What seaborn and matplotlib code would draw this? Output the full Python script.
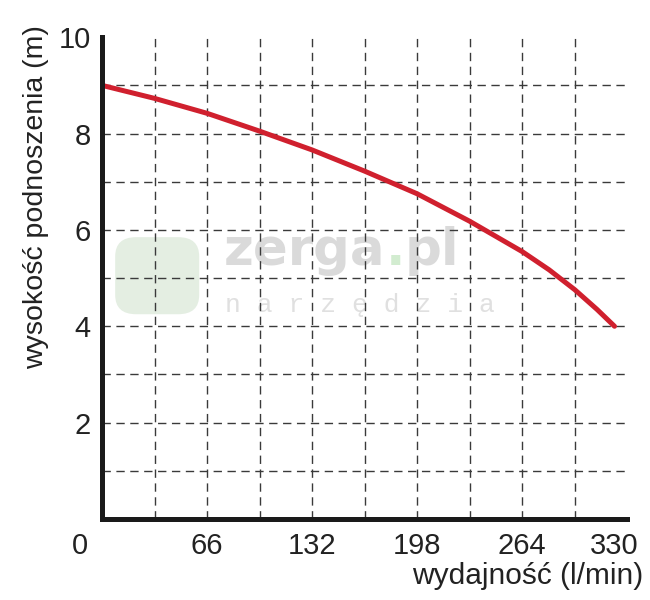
import numpy as np
import pandas as pd
import matplotlib
matplotlib.use("Agg")
import matplotlib.pyplot as plt
import matplotlib.transforms as mtransforms
from matplotlib.patches import FancyBboxPatch
import seaborn as sns

# pump curve
flow = [0, 33, 66, 99, 132, 165, 198, 231, 264, 281, 297, 311, 322]
head = [9.0, 8.73, 8.42, 8.05, 7.66, 7.22, 6.75, 6.18, 5.55, 5.17, 4.76, 4.35, 4.0]

x_ticks = [0, 66, 132, 198, 264, 330]
y_ticks = [2, 4, 6, 8, 10]
grid_x = [33, 66, 99, 132, 165, 198, 231, 264, 297]
grid_y = [1, 2, 3, 4, 5, 6, 7, 8, 9]

x_title = "wydajność (l/min)"
y_title = "wysokość podnoszenia (m)"

sns.set_theme(style="white")
plt.rcParams["font.family"] = ["Liberation Sans", "DejaVu Sans"]

df = pd.DataFrame({"flow": flow, "head": head})

fig = plt.figure(figsize=(6.5, 6.0), dpi=100)
ax = fig.add_axes([0.157, 0.135, 0.808, 0.803])

# faint watermark of the source shop
logo = FancyBboxPatch((0.03, 0.43), 0.15, 0.15, boxstyle="round,pad=0.005,rounding_size=0.04",
                      transform=ax.transAxes, facecolor="#e4eee2", edgecolor="none", zorder=0)
ax.add_patch(logo)
wm = ax.text(0.232, 0.556, "zerga", transform=ax.transAxes, fontsize=37,
             family="DejaVu Sans", fontweight="bold", color="#dadada",
             ha="left", va="center", zorder=0)
dot = ax.annotate(".", xy=(1, 0), xycoords=wm, va="bottom", ha="left", fontsize=37,
                  family="DejaVu Sans", fontweight="bold", color="#d2ecd0", zorder=0)
ax.annotate("pl", xy=(1, 0), xycoords=dot, va="bottom", ha="left", fontsize=37,
            family="DejaVu Sans", fontweight="bold", color="#dadada", zorder=0)
ax.text(0.235, 0.445, "n a r z ę d z i a", transform=ax.transAxes, fontsize=19,
        family="Liberation Mono", color="#e0e0e0", ha="left", va="center", zorder=0)

for gx in grid_x:
    ax.axvline(gx, color="#3a3a3a", lw=1.0, ls=(0, (6, 4)), zorder=1)
for gy in grid_y:
    ax.axhline(gy, color="#3a3a3a", lw=1.0, ls=(0, (6, 4)), zorder=1)

sns.lineplot(data=df, x="flow", y="head", color="#d0202e", lw=3.6, ax=ax, zorder=3)

ax.set_xlim(0, 330)
ax.set_ylim(0, 10)
ax.set_xticks(x_ticks)
ax.set_yticks(y_ticks)
ax.tick_params(axis="both", length=0, labelsize=21, labelcolor="#222222")
ax.tick_params(axis="x", pad=9)
ax.tick_params(axis="y", pad=8)

# corner labels sit a bit to the left in the original
labels = ax.get_xticklabels()
labels[0].set_transform(labels[0].get_transform() +
                        mtransforms.ScaledTranslation(-0.22, 0, fig.dpi_scale_trans))
labels[-1].set_transform(labels[-1].get_transform() +
                         mtransforms.ScaledTranslation(-0.13, 0, fig.dpi_scale_trans))

ax.set_xlabel(x_title, fontsize=21.5, color="#222222", loc="right")
ax.xaxis.set_label_coords(1.03, -0.09)
ax.set_ylabel(y_title, fontsize=20.5, color="#222222", loc="top")
ax.yaxis.set_label_coords(-0.1, 1.025)

sns.despine(ax=ax)
for side in ["left", "bottom"]:
    ax.spines[side].set_linewidth(3.6)
    ax.spines[side].set_color("#1a1a1a")
    ax.spines[side].set_zorder(4)

fig.savefig("out.png", dpi=100, facecolor="white")
